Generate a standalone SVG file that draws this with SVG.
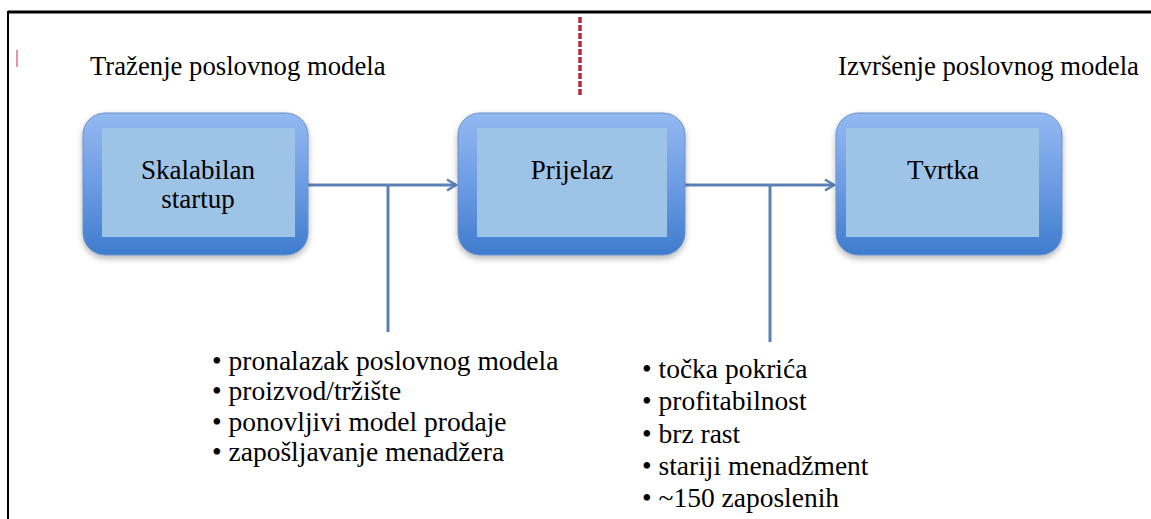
<svg xmlns="http://www.w3.org/2000/svg" width="1151" height="519" viewBox="0 0 1151 519">
<defs>
<linearGradient id="boxGrad" x1="0" y1="0" x2="0" y2="1">
<stop offset="0" stop-color="#94b9f2"/>
<stop offset="0.5" stop-color="#6d9ce3"/>
<stop offset="1" stop-color="#3f7ccd"/>
</linearGradient>
<filter id="shadow" x="-10%" y="-10%" width="120%" height="130%">
<feGaussianBlur in="SourceAlpha" stdDeviation="3"/>
<feOffset dx="0" dy="3" result="b"/>
<feComponentTransfer><feFuncA type="linear" slope="0.3"/></feComponentTransfer>
<feMerge><feMergeNode/><feMergeNode in="SourceGraphic"/></feMerge>
</filter>
<marker id="arrow" viewBox="0 0 14 14" refX="12" refY="7" markerWidth="14" markerHeight="14" markerUnits="userSpaceOnUse" orient="auto">
<path d="M3,1.5 L12,7 L3,12.5" fill="none" stroke="#5b80b8" stroke-width="2.5"/>
</marker>
</defs>
<rect width="1151" height="519" fill="#fff"/>
<g id="frame" fill="none" stroke="#000">
<line x1="8" y1="12" x2="1151" y2="12" stroke-width="3"/>
<line x1="8" y1="11" x2="8" y2="519" stroke-width="2"/>
</g>
<line x1="17" y1="50" x2="17" y2="67" stroke="#d86a78" stroke-width="2" opacity="0.7"/>
<line x1="580" y1="17" x2="580" y2="97" stroke="#b8283c" stroke-width="3.5" stroke-dasharray="6,2"/>
<g id="headings">
<text x="90" y="75" font-family="Liberation Serif" font-size="26.7">Traženje poslovnog modela</text>
<text x="838" y="75" font-family="Liberation Serif" font-size="26.7">Izvršenje poslovnog modela</text>
</g>
<g id="connectors" fill="none" stroke="#5b80b8" stroke-width="3">
<line x1="308" y1="185" x2="456" y2="185" marker-end="url(#arrow)"/>
<line x1="388" y1="185" x2="388" y2="332"/>
<line x1="685" y1="185" x2="834" y2="185" marker-end="url(#arrow)"/>
<line x1="770" y1="185" x2="770" y2="342"/>
</g>
<g id="node-startup">
<rect x="83" y="113" width="225" height="142" rx="22" fill="url(#boxGrad)" stroke="#6a8fc8" stroke-width="1" filter="url(#shadow)"/>
<rect x="102" y="128" width="193" height="109" fill="#9dc3e6"/>
<text x="198" y="179" text-anchor="middle" font-family="Liberation Serif" font-size="27">Skalabilan</text>
<text x="198" y="208" text-anchor="middle" font-family="Liberation Serif" font-size="27">startup</text>
</g>
<g id="node-prijelaz">
<rect x="458" y="113" width="227" height="142" rx="22" fill="url(#boxGrad)" stroke="#6a8fc8" stroke-width="1" filter="url(#shadow)"/>
<rect x="477" y="128" width="190" height="109" fill="#9dc3e6"/>
<text x="572" y="179" text-anchor="middle" font-family="Liberation Serif" font-size="27">Prijelaz</text>
</g>
<g id="node-tvrtka">
<rect x="836" y="113" width="226" height="142" rx="22" fill="url(#boxGrad)" stroke="#6a8fc8" stroke-width="1" filter="url(#shadow)"/>
<rect x="846" y="128" width="193" height="109" fill="#9dc3e6"/>
<text x="943" y="179" text-anchor="middle" font-family="Liberation Serif" font-size="27">Tvrtka</text>
</g>
<g id="list-left">
<text x="212" y="370" font-family="Liberation Serif" font-size="27.5">• pronalazak poslovnog modela</text>
<text x="212" y="400" font-family="Liberation Serif" font-size="27.5">• proizvod/tržište</text>
<text x="212" y="431" font-family="Liberation Serif" font-size="27.5">• ponovljivi model prodaje</text>
<text x="212" y="461" font-family="Liberation Serif" font-size="27.5">• zapošljavanje menadžera</text>
</g>
<g id="list-right">
<text x="642" y="378" font-family="Liberation Serif" font-size="27.5">• točka pokrića</text>
<text x="642" y="410" font-family="Liberation Serif" font-size="27.5">• profitabilnost</text>
<text x="642" y="443" font-family="Liberation Serif" font-size="27.5">• brz rast</text>
<text x="642" y="475" font-family="Liberation Serif" font-size="27.5">• stariji menadžment</text>
<text x="642" y="507" font-family="Liberation Serif" font-size="27.5">• ~150 zaposlenih</text>
</g>
</svg>
